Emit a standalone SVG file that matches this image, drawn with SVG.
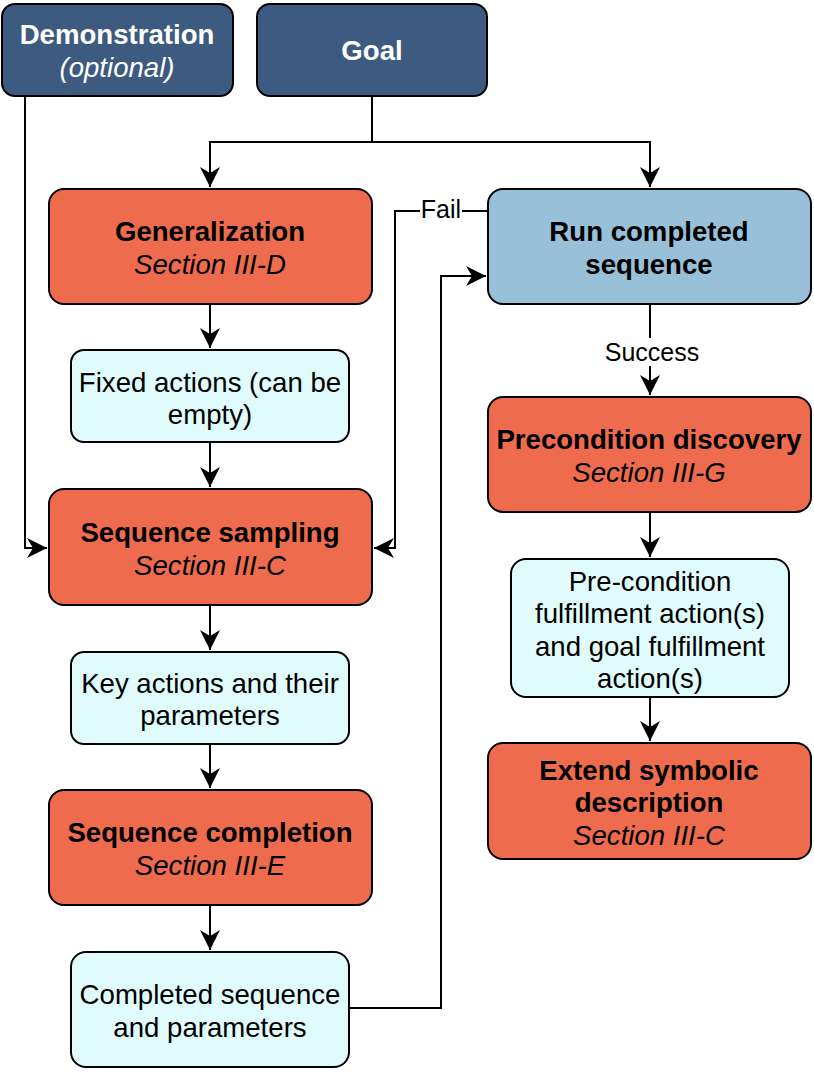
<svg xmlns="http://www.w3.org/2000/svg" width="814" height="1073" viewBox="0 0 814 1073">
<defs>
<style>
.box{stroke:#000;stroke-width:2}
.dark{fill:#3D5A80}
.red{fill:#EE6C4D}
.blue{fill:#98C1D9}
.cyan{fill:#E0FBFC}
text{font-family:"Liberation Sans",Arial,sans-serif;font-size:27.6px;text-anchor:middle;fill:#000}
.b{font-weight:bold}
.i{font-style:italic}
.w{fill:#fff}
.lbl{font-size:25px}
.edge{fill:none;stroke:#000;stroke-width:2}
</style>
<marker id="arr" markerUnits="userSpaceOnUse" markerWidth="22" markerHeight="22" refX="20" refY="10" orient="auto" viewBox="0 0 22 22">
<path d="M0,0 L20,10 L0,20 L6,10 Z" fill="#000"/>
</marker>
</defs>
<g id="connectors">
<path class="edge" d="M372,96 V142 H210 V187" marker-end="url(#arr)"/>
<path class="edge" d="M372,142 H650 V187" marker-end="url(#arr)"/>
<path class="edge" d="M25,96 V548 H47" marker-end="url(#arr)"/>
<path class="edge" d="M210,304 V348" marker-end="url(#arr)"/>
<path class="edge" d="M210,442 V487" marker-end="url(#arr)"/>
<path class="edge" d="M210,605 V650" marker-end="url(#arr)"/>
<path class="edge" d="M210,744 V788" marker-end="url(#arr)"/>
<path class="edge" d="M210,905 V950" marker-end="url(#arr)"/>
<path class="edge" d="M349,1008 H441 V276 H486" marker-end="url(#arr)"/>
<path class="edge" d="M488,211 H395 V548 H374" marker-end="url(#arr)"/>
<rect x="420" y="198" width="42" height="26" fill="#fff"/>
<text class="lbl" x="441" y="218">Fail</text>
<path class="edge" d="M650,304 V395" marker-end="url(#arr)"/>
<rect x="601" y="338" width="102" height="28" fill="#fff"/>
<text class="lbl" x="652" y="361">Success</text>
<path class="edge" d="M650,512 V557" marker-end="url(#arr)"/>
<path class="edge" d="M650,697 V741" marker-end="url(#arr)"/>
</g>
<g id="demonstration">
<rect class="box dark" x="2" y="4" width="231" height="92" rx="13"/>
<text class="b w" x="117" y="44">Demonstration</text>
<text class="i w" x="117" y="77">(optional)</text>
</g>
<g id="goal">
<rect class="box dark" x="257" y="4" width="230" height="92" rx="13"/>
<text class="b w" x="372" y="60">Goal</text>
</g>
<g id="generalization">
<rect class="box red" x="49" y="189" width="323" height="115" rx="15"/>
<text class="b" x="210" y="241">Generalization</text>
<text class="i" x="210" y="274">Section III-D</text>
</g>
<g id="fixed-actions">
<rect class="box cyan" x="71" y="350" width="278" height="92" rx="13"/>
<text x="210" y="392">Fixed actions (can be</text>
<text x="210" y="424">empty)</text>
</g>
<g id="sequence-sampling">
<rect class="box red" x="49" y="489" width="323" height="116" rx="15"/>
<text class="b" x="210" y="542">Sequence sampling</text>
<text class="i" x="210" y="575">Section III-C</text>
</g>
<g id="key-actions">
<rect class="box cyan" x="71" y="652" width="278" height="92" rx="13"/>
<text x="210" y="693">Key actions and their</text>
<text x="210" y="725">parameters</text>
</g>
<g id="sequence-completion">
<rect class="box red" x="49" y="790" width="323" height="115" rx="15"/>
<text class="b" x="210" y="842">Sequence completion</text>
<text class="i" x="210" y="875">Section III-E</text>
</g>
<g id="completed-sequence">
<rect class="box cyan" x="71" y="952" width="278" height="115" rx="15"/>
<text x="210" y="1004">Completed sequence</text>
<text x="210" y="1037">and parameters</text>
</g>
<g id="run-completed">
<rect class="box blue" x="488" y="189" width="323" height="115" rx="15"/>
<text class="b" x="649" y="241">Run completed</text>
<text class="b" x="649" y="274">sequence</text>
</g>
<g id="precondition-discovery">
<rect class="box red" x="488" y="397" width="323" height="115" rx="15"/>
<text class="b" x="649" y="449">Precondition discovery</text>
<text class="i" x="649" y="482">Section III-G</text>
</g>
<g id="fulfillment-actions">
<rect class="box cyan" x="511" y="559" width="278" height="138" rx="15"/>
<text x="650" y="591">Pre-condition</text>
<text x="650" y="623">fulfillment action(s)</text>
<text x="650" y="656">and goal fulfillment</text>
<text x="650" y="688">action(s)</text>
</g>
<g id="extend-symbolic">
<rect class="box red" x="488" y="743" width="323" height="116" rx="15"/>
<text class="b" x="649" y="780">Extend symbolic</text>
<text class="b" x="649" y="812">description</text>
<text class="i" x="649" y="845">Section III-C</text>
</g>
</svg>
